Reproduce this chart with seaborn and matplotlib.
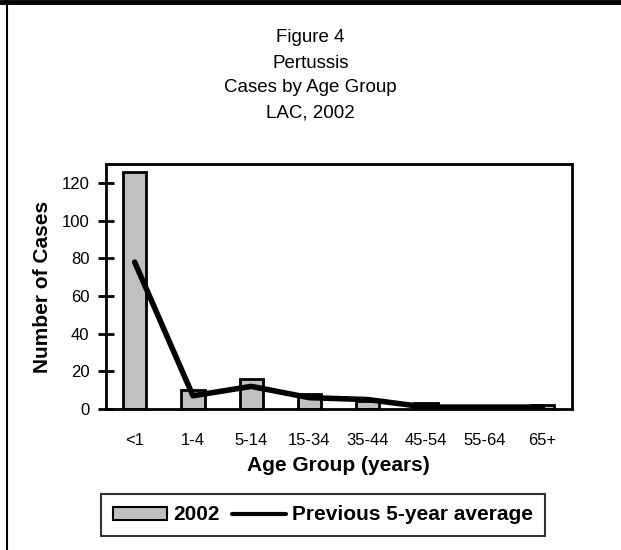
import numpy as np
import pandas as pd
import matplotlib
matplotlib.use("Agg")
import matplotlib.pyplot as plt
from matplotlib.lines import Line2D
from matplotlib.patches import Patch
import seaborn as sns

# data
age_groups = ["<1", "1-4", "5-14", "15-34", "35-44", "45-54", "55-64", "65+"]
cases_2002 = [126, 10, 16, 8, 4, 3, 0, 2]
prev_5yr_avg = [78, 7, 12, 6, 5, 1, 1, 1]

df = pd.DataFrame({"age": age_groups, "cases": cases_2002, "avg": prev_5yr_avg})

sns.set_style("white")
plt.rcParams["font.family"] = ["Liberation Sans", "DejaVu Sans"]
plt.rcParams["text.color"] = "black"
plt.rcParams["axes.labelcolor"] = "black"
plt.rcParams["xtick.color"] = "black"
plt.rcParams["ytick.color"] = "black"

fig = plt.figure(figsize=(6.21, 5.5), dpi=100)
ax = fig.add_axes([0.170, 0.2564, 0.7506, 0.445])

sns.barplot(data=df, x="age", y="cases", color="#c0c0c0", edgecolor="black",
            linewidth=2, width=0.4, saturation=1, ax=ax)
sns.lineplot(data=df, x="age", y="avg", color="black", linewidth=4,
             sort=False, ax=ax)

ax.set_ylim(0, 130)
ax.set_xlim(-0.5, len(age_groups) - 0.5)
ax.set_yticks(range(0, 121, 20))
ax.tick_params(axis="y", left=True, direction="inout", length=11, width=2,
               labelsize=12, pad=6)
ax.tick_params(axis="x", bottom=False, length=0, labelsize=12, pad=17)
for s in ax.spines.values():
    s.set_linewidth(2)
    s.set_color("black")

ax.set_xlabel("Age Group (years)", fontsize=15, fontweight="bold", labelpad=6)
ax.set_ylabel("Number of Cases", fontsize=15, fontweight="bold", labelpad=7)

# stacked title lines
titles = ["Figure 4", "Pertussis", "Cases by Age Group", "LAC, 2002"]
for i, t in enumerate(titles):
    fig.text(0.5, 1 - (38 + 25 * i) / 550, t, ha="center", va="center", fontsize=13.5)

handles = [Patch(facecolor="#c0c0c0", edgecolor="black", linewidth=1.5),
           Line2D([0], [0], color="black", linewidth=3)]
leg = fig.legend(handles, ["2002", "Previous 5-year average"], loc="center",
                 bbox_to_anchor=(323 / 621, 1 - 515 / 550), ncol=2, frameon=True,
                 fancybox=False, handlelength=2.6, handleheight=0.6,
                 handletextpad=0.3, columnspacing=0.6, borderpad=0.55,
                 borderaxespad=0, prop={"weight": "bold", "size": 15})
leg.get_frame().set_edgecolor("black")
leg.get_frame().set_linewidth(1.5)

# outer frame: thick top edge and left edge
fig.add_artist(Line2D([0, 1], [1 - 2 / 550, 1 - 2 / 550], color="black", linewidth=3.5))
fig.add_artist(Line2D([7 / 621, 7 / 621], [0, 1], color="black", linewidth=1.5))

fig.savefig("out.png", dpi=100)
